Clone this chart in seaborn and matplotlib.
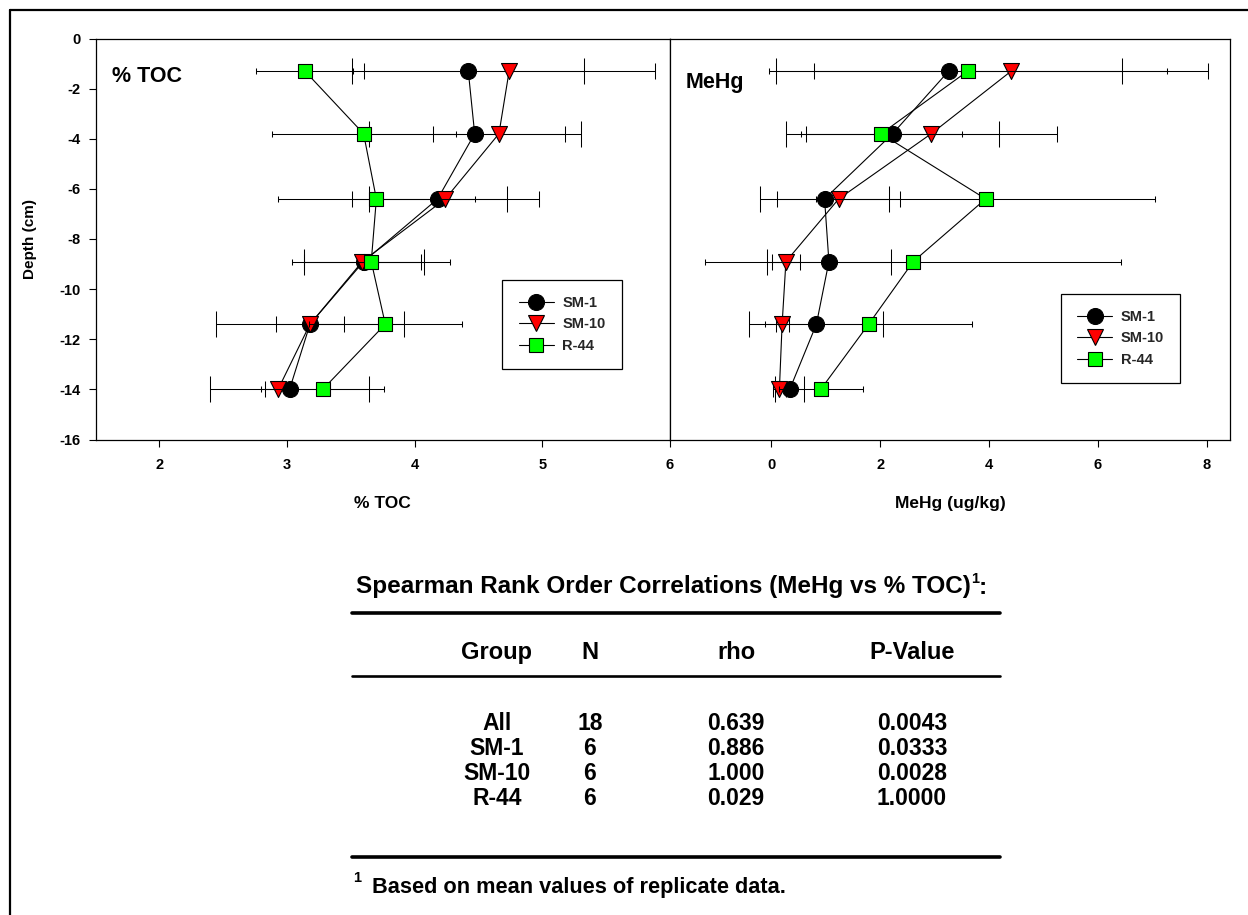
import numpy as np
import pandas as pd
import matplotlib
matplotlib.use("Agg")
import matplotlib.pyplot as plt
import seaborn as sns
from matplotlib.lines import Line2D

# ---------------- data ----------------
depth = [-1.3, -3.8, -6.4, -8.9, -11.4, -14.0]
groups = ["SM-1", "SM-10", "R-44"]

toc_sm1 = [4.42, 4.47, 4.18, 3.60, 3.18, 3.02]
toc_sm1_err = [0.91, 0.83, 0.54, 0.47, 0.74, 0.62]
toc_sm10 = [4.74, 4.66, 4.24, 3.59, 3.18, 2.93]
toc_sm10_err = [1.14, 0.52, 0.73, 0.46, 0.27, 0.10]
toc_r44 = [3.14, 3.60, 3.70, 3.66, 3.77, 3.28]
toc_r44_err = [0.38, 0.72, 0.77, 0.62, 0.60, 0.48]

mehg_sm1 = [3.26, 2.23, 0.98, 1.06, 0.83, 0.34]
mehg_sm1_err = [3.18, 1.96, 1.18, 1.14, 1.23, 0.27]
mehg_sm10 = [4.41, 2.94, 1.24, 0.27, 0.20, 0.15]
mehg_sm10_err = [3.62, 2.31, 1.13, 0.26, 0.12, 0.12]
mehg_r44 = [3.61, 2.02, 3.94, 2.61, 1.79, 0.91]
mehg_r44_err = [3.66, 1.48, 3.11, 3.82, 1.90, 0.77]

toc_ticks = [2, 3, 4, 5, 6]
mehg_ticks = [0, 2, 4, 6, 8]
depth_ticks = [0, -2, -4, -6, -8, -10, -12, -14, -16]

table_title = "Spearman Rank Order Correlations (MeHg vs % TOC)"
table_cols = ["Group", "N", "rho", "P-Value"]
tab_group = ["All", "SM-1", "SM-10", "R-44"]
tab_n = ["18", "6", "6", "6"]
tab_rho = ["0.639", "0.886", "1.000", "0.029"]
tab_p = ["0.0043", "0.0333", "0.0028", "1.0000"]
footnote = "Based on mean values of replicate data."

# ---------------- style ----------------
sns.set_theme(style="white")
plt.rcParams['font.family'] = ['Liberation Sans', 'DejaVu Sans']
plt.rcParams['font.weight'] = 'bold'

W, H = 1248, 915
fig = plt.figure(figsize=(W / 100, H / 100), dpi=100)
fig.patch.set_facecolor('white')

def fx(x):
    return x / W

def fy(y):
    return 1 - y / H

top, bot = 38.5, 439.5
ax1 = fig.add_axes([fx(95.5), fy(bot), (670 - 95.5) / W, (bot - top) / H])
ax2 = fig.add_axes([fx(670), fy(bot), (1230 - 670) / W, (bot - top) / H])

styles = {
    "SM-1": dict(marker='o', ms=11.5, mfc='black', cap=9.5),
    "SM-10": dict(marker='v', ms=11.5, mfc='#ff0000', cap=5.5),
    "R-44": dict(marker='s', ms=10, mfc='#00ff00', cap=2.5),
}

toc_data = {"SM-1": (toc_sm1, toc_sm1_err), "SM-10": (toc_sm10, toc_sm10_err),
            "R-44": (toc_r44, toc_r44_err)}
mehg_data = {"SM-1": (mehg_sm1, mehg_sm1_err), "SM-10": (mehg_sm10, mehg_sm10_err),
             "R-44": (mehg_r44, mehg_r44_err)}

def draw_panel(ax, data):
    for i, g in enumerate(groups):
        vals, errs = data[g]
        st = styles[g]
        ax.errorbar(vals, depth, xerr=errs, fmt='none', ecolor='black',
                    elinewidth=0.75, capsize=st['cap'], capthick=0.75,
                    zorder=2 + i * 3)
        df = pd.DataFrame({"x": vals, "y": depth})
        sns.lineplot(data=df, x="x", y="y", sort=False, estimator=None,
                     color='black', lw=0.8, ax=ax, zorder=3 + i * 3)
        sns.scatterplot(data=df, x="x", y="y", marker=st['marker'],
                        s=st['ms'] ** 2, color=st['mfc'], edgecolor='black',
                        linewidth=0.8, ax=ax, zorder=4 + i * 3, legend=False)

draw_panel(ax1, toc_data)
draw_panel(ax2, mehg_data)

for ax in (ax1, ax2):
    ax.set_ylim(-16, 0)
    ax.set_xlabel('')
    ax.set_ylabel('')
    for sp in ax.spines.values():
        sp.set_color('black')
        sp.set_linewidth(0.9)
        sp.set_visible(True)
    ax.tick_params(axis='x', bottom=True, direction='out', length=5, width=0.8,
                   color='black', labelsize=10.5, pad=8, labelcolor='black')

ax1.set_xlim(1.5, 6)
ax1.set_xticks(toc_ticks)
ax1.set_xticklabels([str(t) for t in toc_ticks], fontweight='bold')
ax1.set_yticks(depth_ticks)
ax1.set_yticklabels([str(t) for t in depth_ticks], fontweight='bold')
ax1.tick_params(axis='y', left=True, direction='out', length=5, width=0.8,
                color='black', labelsize=10.5, pad=6, labelcolor='black')

ax2.set_xlim(-1.86, 8.43)
ax2.set_xticks(mehg_ticks)
ax2.set_xticklabels([str(t) for t in mehg_ticks], fontweight='bold')
ax2.set_yticks([])
ax2.tick_params(axis='y', left=False, labelleft=False)

ax1.set_xlabel('% TOC', fontsize=12.5, fontweight='bold', color='black')
ax1.xaxis.set_label_coords(0.5, (bot - 496) / (bot - top))
ax2.set_xlabel('MeHg (ug/kg)', fontsize=12.5, fontweight='bold', color='black')
ax2.xaxis.set_label_coords(0.5, (bot - 496) / (bot - top))
fig.text(fx(30), fy(239), 'Depth (cm)', rotation=90, ha='center', va='center',
         fontsize=11, fontweight='bold', color='black')

ax1.text(0.028, 0.905, '% TOC', transform=ax1.transAxes, fontsize=15.5,
         fontweight='bold', ha='left', va='center', color='black')
ax2.text(0.028, 0.89, 'MeHg', transform=ax2.transAxes, fontsize=15.5,
         fontweight='bold', ha='left', va='center', color='black')

# legends
handles = [Line2D([0], [0], color='black', lw=0.8, marker=styles[g]['marker'],
                  ms=styles[g]['ms'], mfc=styles[g]['mfc'], mec='black', mew=0.8)
           for g in groups]
for ax, (lx, ly) in ((ax1, (502.5, 280)), (ax2, (1061, 294))):
    leg = ax.legend(handles, groups, loc='upper left',
                    bbox_to_anchor=(fx(lx), fy(ly)), bbox_transform=fig.transFigure,
                    frameon=True, fancybox=False, framealpha=1, edgecolor='black',
                    prop=dict(weight='bold', size=10.5), handlelength=2.4,
                    labelspacing=0.5, borderpad=1.1, handletextpad=0.6,
                    borderaxespad=0, numpoints=1)
    leg.get_frame().set_linewidth(0.9)
    leg.set_zorder(20)

# figure frame (left and top)
fig.add_artist(Line2D([fx(10), fx(10)], [fy(10), fy(915)], color='black', lw=1.6))
fig.add_artist(Line2D([fx(10), fx(1248)], [fy(10), fy(10)], color='black', lw=1.6))

# ---------------- table ----------------
t = fig.text(fx(356), fy(587), table_title, ha='left', va='center', fontsize=17.5,
             fontweight='bold', color='black')
fig.canvas.draw()
bb = t.get_window_extent()
x_end = bb.x1
fig.text(x_end / W + 0.0005, fy(579), '1', ha='left', va='center', fontsize=10.5,
         fontweight='bold', color='black')
fig.text(x_end / W + 0.0065, fy(587), ':', ha='left', va='center', fontsize=17.5,
         fontweight='bold', color='black')

x0r, x1r = fx(352), fx(1000)
fig.add_artist(Line2D([x0r, x1r], [fy(612.5), fy(612.5)], color='black', lw=2.6))
fig.add_artist(Line2D([x0r, x1r], [fy(676), fy(676)], color='black', lw=1.9))
fig.add_artist(Line2D([x0r, x1r], [fy(857), fy(857)], color='black', lw=2.6))

col_x = [497, 590, 736, 912]
for cx, name in zip(col_x, table_cols):
    fig.text(fx(cx), fy(651) - 0.0092, name, ha='center', va='baseline',
             fontsize=17, fontweight='bold', color='black')

row_y = [722, 747, 772, 797]
for ry, a, b, c, d in zip(row_y, tab_group, tab_n, tab_rho, tab_p):
    for cx, val in zip(col_x, (a, b, c, d)):
        fig.text(fx(cx), fy(ry) - 0.009, val, ha='center', va='baseline',
                 fontsize=16.5, fontweight='bold', color='black')

fig.text(fx(353), fy(878), '1', ha='left', va='center', fontsize=10.5,
         fontweight='bold', color='black')
fig.text(fx(372), fy(887), footnote, ha='left', va='center', fontsize=15.7,
         fontweight='bold', color='black')

fig.savefig('out.png', dpi=100, facecolor='white')
